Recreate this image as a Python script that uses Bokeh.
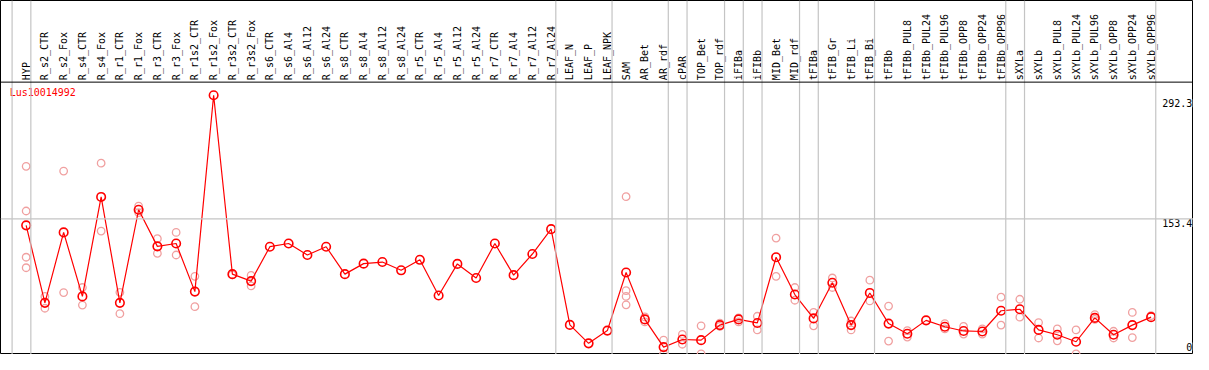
import math
from bokeh.plotting import figure
from bokeh.models import Range1d, Span, ColumnDataSource
from bokeh.core.properties import value
from bokeh.embed import file_html
from bokeh.resources import INLINE

gene = "Lus10014992"

categories = [
    "HYP", "R_s2_CTR", "R_s2_Fox", "R_s4_CTR", "R_s4_Fox", "R_r1_CTR", "R_r1_Fox",
    "R_r3_CTR", "R_r3_Fox", "R_r1s2_CTR", "R_r1s2_Fox", "R_r3s2_CTR", "R_r3s2_Fox",
    "R_s6_CTR", "R_s6_Al4", "R_s6_Al12", "R_s6_Al24", "R_s8_CTR", "R_s8_Al4",
    "R_s8_Al12", "R_s8_Al24", "R_r5_CTR", "R_r5_Al4", "R_r5_Al12", "R_r5_Al24",
    "R_r7_CTR", "R_r7_Al4", "R_r7_Al12", "R_r7_Al24", "LEAF_N", "LEAF_P", "LEAF_NPK",
    "SAM", "AR_Bet", "AR_rdf", "cPAR", "TOP_Bet", "TOP_rdf", "iFIBa", "iFIBb",
    "MID_Bet", "MID_rdf", "tFIBa", "tFIB_Gr", "tFIB_Li", "tFIB_Bi", "tFIBb",
    "tFIBb_PUL8", "tFIBb_PUL24", "tFIBb_PUL96", "tFIBb_OPP8", "tFIBb_OPP24",
    "tFIBb_OPP96", "sXYLa", "sXYLb", "sXYLb_PUL8", "sXYLb_PUL24", "sXYLb_PUL96",
    "sXYLb_OPP8", "sXYLb_OPP24", "sXYLb_OPP96",
]

means = [
    146.2, 59.2, 138.3, 66.4, 178.1, 59.2, 163.7, 122.6, 125.8, 71.8, 292.3, 91.4, 83.6,
    122.2, 125.8, 112.9, 122.2, 91.4, 103.2, 105.0, 95.7, 107.5, 67.4, 102.9, 87.1,
    125.8, 90.3, 114.0, 141.9, 34.4, 13.7, 28.0,
    93.2, 40.6, 9.5, 18.0, 17.3, 34.2, 40.6, 36.6, 110.4, 68.5, 41.7, 81.7, 34.2, 70.3,
    35.9, 24.5, 39.5, 32.3, 27.6, 27.0, 50.3, 52.0, 28.8, 23.4, 15.5, 42.3, 23.4, 34.2,
    43.1,
]

replicates = [
    [212.5, 162.3, 110.4, 98.6], [66.4, 53.1], [207.1, 70.7], [76.4, 56.7],
    [216.0, 139.8], [71.0, 47.0], [167.7, 160.5], [131.2, 114.7], [138.3, 112.9],
    [88.9, 54.9], [], [90.7], [90.0, 78.2],
    [], [], [], [], [], [], [], [], [], [], [], [], [], [], [], [], [], [], [],
    [178.4, 72.8, 66.4, 57.0], [43.4, 37.7], [17.3, 1.9], [23.7, 12.7], [33.4, 1.9],
    [36.3, 32.7], [42.3, 37.7], [44.1, 28.8], [131.9, 88.9], [76.4, 62.1],
    [48.4, 33.4], [87.1, 76.4], [38.8, 28.8], [84.6, 61.3], [55.6, 16.2],
    [28.0, 20.8], [], [35.9, 29.9], [32.7, 24.1], [29.9, 24.1], [65.6, 34.2],
    [63.2, 43.1], [37.0, 19.7], [29.9, 16.5], [28.8, 1.9], [46.0, 40.6],
    [27.3, 19.7], [48.4, 20.2], [44.9],
]

# groups: a separator line is drawn after each of these categories
group_ends = ["HYP", "R_r7_Al24", "LEAF_NPK", "AR_rdf", "cPAR", "TOP_rdf", "iFIBa",
              "iFIBb", "MID_rdf", "tFIBa", "tFIB_Bi", "tFIBb_OPP96", "sXYLa",
              "sXYLb_OPP96"]

y_ticks = [0, 153.4, 292.3]
y_tick_labels = ["0", "153.4", "292.3"]

FONT = value("DejaVu Sans Mono")
RED = "#ff0000"
PINK = "#f0a0a0"
GRAY = "#c4c4c4"

idx = list(range(len(categories)))
pos = {c: i for i, c in enumerate(categories)}

# value scale: header region sits above the data region
Y_LO, Y_HI = 1.18, 398.65
HEADER_Y = 307.0

p = figure(width=1193, height=354, output_backend="svg", toolbar_location=None,
           x_range=Range1d(-1.368, 62.263), y_range=Range1d(Y_LO, Y_HI),
           min_border=0, min_border_left=0, min_border_right=0,
           min_border_top=0, min_border_bottom=0)
p.xaxis.visible = False
p.yaxis.visible = False
p.grid.visible = False
p.outline_line_color = "black"
p.outline_line_width = 1
p.background_fill_color = "white"
p.border_fill_color = "white"

# vertical group separators (full height)
breaks = [-0.75] + [pos[c] + 0.25 for c in group_ends]
for b in breaks:
    p.add_layout(Span(location=b, dimension="height", line_color=GRAY, line_width=1.2))

# horizontal grid at middle tick
p.add_layout(Span(location=y_ticks[1], dimension="width", line_color=GRAY, line_width=1.2))

# header separator
p.add_layout(Span(location=HEADER_Y, dimension="width", line_color="black", line_width=1))

# header labels
hdr = ColumnDataSource(dict(x=idx, y=[HEADER_Y] * len(idx), t=categories))
p.text(x="x", y="y", text="t", source=hdr, angle=math.pi / 2, text_align="left",
       text_baseline="middle", text_font=FONT, text_font_size="10px",
       text_color="black", x_offset=0, y_offset=-2)

# replicates
rx, ry = [], []
for i, reps in enumerate(replicates):
    for v in reps:
        rx.append(i)
        ry.append(v)
p.scatter(rx, ry, marker="circle", size=7.5, fill_color=None, line_color=PINK,
          line_width=1.3)

# mean line + markers
p.line(idx, means, line_color=RED, line_width=1.2)
p.scatter(idx, means, marker="circle", size=8.5, fill_color=None, line_color=RED,
          line_width=1.6)

# right-hand value labels
ylab = ColumnDataSource(dict(x=[62.2] * 3, y=y_ticks, t=y_tick_labels,
                             off=[-9, 4, 8]))
p.text(x="x", y="y", text="t", source=ylab, text_align="right",
       text_baseline="middle", text_font=FONT, text_font_size="10px",
       text_color="black", y_offset="off", background_fill_color="white")

# gene name
p.text(x=[-0.88], y=[294.8], text=[gene], text_align="left", text_baseline="middle",
       text_font=FONT, text_font_size="10px", text_color=RED)

open("out.html", "w").write(file_html(p, INLINE))
